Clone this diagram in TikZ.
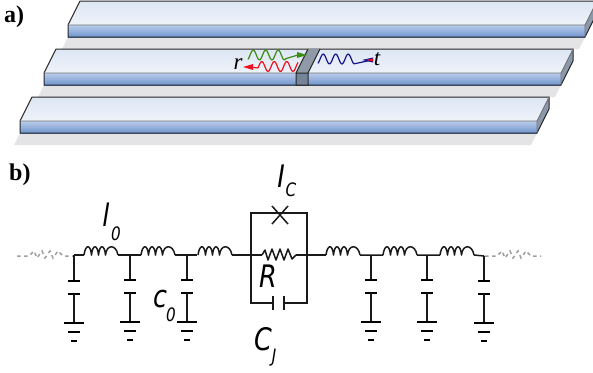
\documentclass[tikz,border=0pt]{standalone}
\usepackage{fontspec}
\setmainfont{Liberation Serif}
\newfontfamily\lblfont[ItalicFont={DejaVu Sans Oblique}]{DejaVu Sans}
\usetikzlibrary{arrows.meta,calc}
\definecolor{shadowc}{HTML}{E4E4E7}
\definecolor{sidec}{HTML}{8C98AB}
\definecolor{barfront}{HTML}{76849A}
\definecolor{bartop}{HTML}{8F99A7}
\definecolor{topa}{HTML}{DDE6F4}
\definecolor{topb}{HTML}{EEF3FA}
\definecolor{fronta}{HTML}{BACDEA}
\definecolor{frontb}{HTML}{6F94CE}
\definecolor{wgreen}{HTML}{3C8C14}
\definecolor{wred}{HTML}{F01020}
\definecolor{wblue}{HTML}{14148C}
\tikzset{
  wire/.style={line width=1.5pt,black!90},
  tail/.style={line width=1.5pt,gray!75,dash pattern=on 3.5pt off 3.5pt},
  plate/.style={line width=1.9pt,black},
  sym/.style={font=\lblfont\itshape\fontsize{31}{31}\selectfont,inner sep=0pt,xscale=.82,transform shape},
  subsym/.style={font=\lblfont\itshape\fontsize{18.5}{18.5}\selectfont,inner sep=0pt,xscale=.82,transform shape},
  panel/.style={font=\bfseries\fontsize{24}{24}\selectfont,inner sep=0pt},
  wavetxt/.style={font=\itshape\fontsize{23}{23}\selectfont,inner sep=0pt},
  wave/.style={line width=1.2pt,line join=round},
  pics/coil/.style={code={
    \draw[wire,line join=round] (0,0) .. controls (1.5,-11) and (6.5,-11) .. (7.5,0)
      .. controls (8.5,-11) and (13.5,-11) .. (14.5,0)
      .. controls (15.5,-11) and (20.5,-11) .. (21.5,0)
      .. controls (22.5,-11) and (32,-11) .. (34,0);
  }},
  pics/tailcoil/.style={code={
    \draw[tail] (0,0) -- (12,0) -- (17,-5) -- (20,2) -- (25,-5) -- (28,2) -- (33,-5) -- (36,2) -- (41,-5) -- (46,0) -- (56,0);
  }},
  pics/gnd/.style={code={
    \draw[plate] (-6,0) -- (6,0);
    \draw[plate] (-6,13) -- (6,13);
    \draw[wire] (0,13) -- (0,42);
    \draw[plate] (-10,42) -- (10,42);
    \draw[plate] (-6,51) -- (6,51);
    \draw[plate] (-3,60) -- (3,60);
  }}
}
\newcommand{\strip}[4]{% x front-left, x front-right, y front-top, name
  \fill[shadowc] (#1,#3+12) -- (#2,#3+12) -- (#2-6,#3+24) -- (#1-6,#3+24) -- cycle;
  \shade[bottom color=topb,top color=topa] (#1,#3) -- (#1+12,#3-24) -- (#2+12,#3-24) -- (#2,#3) -- cycle;
  \shade[top color=fronta,bottom color=frontb] (#1,#3) rectangle (#2,#3+12);
  \fill[sidec] (#2,#3) -- (#2+12,#3-24) -- (#2+12,#3-12) -- (#2,#3+12) -- cycle;
  \draw[line width=1pt,black!85] (#1,#3) -- (#1+12,#3-24) -- (#2+12,#3-24) -- (#2+12,#3-12) -- (#2,#3+12) -- (#1,#3+12) -- cycle;
  \draw[line width=.9pt,black!55] (#1,#3) -- (#2,#3) -- (#2+12,#3-24) (#2,#3) -- (#2,#3+12);
}
\begin{document}
\begin{tikzpicture}[x=1pt,y=-1pt]
\useasboundingbox (0,0) rectangle (593,372);
% panel a
\begin{scope}
\clip (0,0) rectangle (593,372);
\strip{68}{585}{25}{s1}
\end{scope}
\strip{44}{561}{73}{s2}
\strip{20}{537}{121}{s3}
% junction bar
\fill[bartop] (296,73) -- (308,49) -- (320,49) -- (308,73) -- cycle;
\fill[barfront] (296,73) rectangle (308,85);
\draw[line width=1pt,black!85] (296,73) -- (308,49) (320,49) -- (308,73) -- (308,85) -- (296,85) -- (296,73) -- (308,73);
% waves
\draw[wave,wgreen] plot[smooth,domain=0:38,samples=39] ({248+\x},{55-5*sin(\x*28.8-60)}) -- (298,55);
\fill[wgreen] (307,55) -- (297,52) -- (297,58) -- cycle;
\draw[wave,wred] (250,67) -- (258,68) plot[smooth,domain=0:40,samples=41] ({258+\x},{66.5-5*sin(\x*28.8-18)});
\fill[wred] (243,67) -- (253,64) -- (253,70) -- cycle;
\draw[wave,wblue] plot[smooth,domain=0:36,samples=37] ({318+\x},{59-5*sin(\x*28.8-60)}) -- (372,60);
\fill[wblue] (362,60) -- (373,57.5) -- (373,62.5) -- cycle;
\fill[wred] (366,60) -- (373,58.5) -- (373,61.5) -- cycle;
\node[wavetxt] (rlab) at (238,64) {r};
\node[wavetxt] (tlab) at (377,59) {t};
\node[panel,anchor=west] (pa) at (4,17) {a)};
\node[panel,anchor=west] (pb) at (9,175) {b)};
% circuit coordinates
\coordinate (j1) at (74,255);
\coordinate (j2) at (130,255);
\coordinate (j3) at (187,255);
\coordinate (bl) at (251,255);
\coordinate (br) at (307,255);
\coordinate (j4) at (371,255);
\coordinate (j5) at (427,255);
\coordinate (j6) at (484,256);
\coordinate (tl) at (251,213);
\coordinate (tr) at (307,213);
\coordinate (ll) at (251,303);
\coordinate (lr) at (307,303);
\coordinate (x) at (280,214);
\coordinate (cl) at (273,303);
\coordinate (cr) at (284,303);
\coordinate (rl) at (262,255);
\coordinate (rr) at (296,255);
% tails
\pic at (17,256) {tailcoil};
\pic at (485,256) {tailcoil};
% coils and wires
\draw[wire] (j1) -- (84,255) (118,255) -- (j2) -- (141,255) (175,255) -- (j3) -- (197,255) (232,255) -- (bl) -- (rl);
\pic at (84,255) {coil};
\pic at (141,255) {coil};
\pic at (198,255) {coil};
\draw[wire] (rr) -- (br) -- (326,255);
\draw[wire] (360,255) -- (j4) -- (383,255) (417,255) -- (j5) -- (440,255) (474,255) -- (j6);
\pic at (326,255) {coil};
\pic at (383,255) {coil};
\pic at (440,255) {coil};
% shunt branches
\draw[wire] (j1) -- (74,281) (j2) -- (130,280) (j3) -- (187,280) (j4) -- (371,280) (j5) -- (427,280) (j6) -- (484,281);
\pic at (74,281) {gnd};
\pic at (130,280) {gnd};
\pic at (187,280) {gnd};
\pic at (371,280) {gnd};
\pic at (427,280) {gnd};
\pic at (484,281) {gnd};
% junction box
\draw[wire] (cl) -- (ll) -- (tl) -- (tr) -- (lr) -- (cr);
\draw[wire] (272,206) -- (288,224) (288,206) -- (272,224);
\draw[wire] (cl)+(0,-7) -- +(0,7);
\draw[wire] (cr)+(0,-7) -- +(0,7);
\draw[wire,line join=round] (rl) -- (265,250) -- (268,260) -- (272,249) -- (276,260) -- (280,249) -- (284,260) -- (288,249) -- (292,259) -- (rr);
% labels
\node[sym] (lab-l) at (106,215) {l};
\node[subsym] (lab-l0) at (116,234) {0};
\node[sym] (lab-Ic) at (281,176) {I};
\node[subsym] (lab-Ic2) at (291,190) {C};
\node[sym] (lab-R) at (268,276) {R};
\node[sym] (lab-c) at (160,299) {c};
\node[subsym] (lab-c0) at (171,315) {0};
\node[sym] (lab-Cj) at (263,339) {C};
\node[subsym] (lab-Cj2) at (274,358) {J};
\end{tikzpicture}
\end{document}
